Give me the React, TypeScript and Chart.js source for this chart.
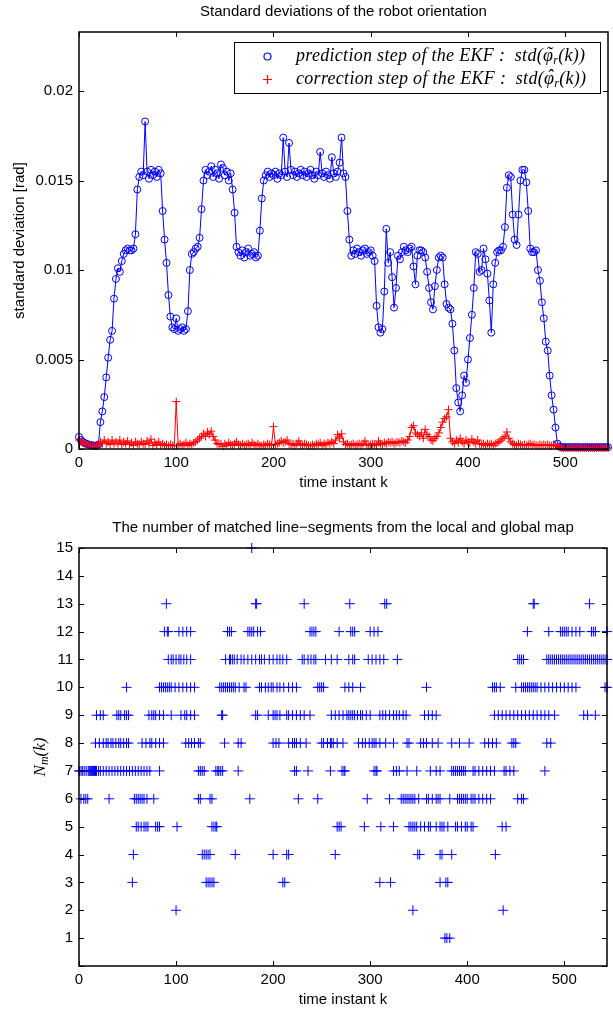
import React, { useEffect, useRef } from 'react';
import { Chart, registerables } from 'chart.js';

Chart.register(...registerables);

// ---------- top chart: standard deviations (units of 1e-4 rad), sampled every 2nd time instant ----------
const timeInstants: number[] = Array.from({ length: 273 }, (_, i) => i * 2);

const predictionStdE4: number[] = [
  6.8, 5, 4, 3.3, 2.8, 2.5, 2.2, 2, 1.9, 1.8,            // k 0-18
  2.5, 15, 21, 29, 40, 51, 61, 66, 84, 95,               // k 20-38
  101, 99, 105, 109, 111, 112, 111, 111, 112, 120,       // k 40-58
  145, 152, 155, 153, 183, 155, 151, 156, 153, 155,      // k 60-78
  152, 156, 154, 133, 117, 104, 86, 74, 68, 67,          // k 80-98
  73, 66, 67, 68, 66, 67, 77, 100, 109, 110,             // k 100-118
  112, 113, 118, 134, 150, 156, 153, 155, 158, 152,      // k 120-138
  156, 154, 151, 159, 157, 153, 155, 150, 154, 145,      // k 140-158
  132, 113, 110, 108, 111, 107, 110, 112, 108, 109,      // k 160-178
  110, 107, 108, 122, 140, 150, 153, 155, 152, 154,      // k 180-198
  153, 155, 151, 154, 153, 174, 155, 152, 171, 156,      // k 200-218
  153, 155, 152, 154, 156, 153, 155, 152, 154, 156,      // k 220-238
  153, 151, 155, 153, 166, 154, 152, 155, 153, 151,      // k 240-258
  163, 154, 152, 155, 160, 174, 154, 152, 133, 117,      // k 260-278
  108, 111, 109, 112, 110, 108, 111, 112, 109, 110,      // k 280-298
  111, 108, 105, 80, 68, 65, 67, 88, 123, 104,           // k 300-318
  110, 96, 79, 90, 108, 106, 110, 113, 111, 110,         // k 320-338
  112, 113, 102, 92, 108, 111, 111, 110, 107, 99,        // k 340-358
  90, 82, 78, 91, 100, 107, 108, 107, 92, 81,            // k 360-378
  79, 78, 70, 55, 34, 26, 21, 30, 41, 37,                // k 380-398
  50, 62, 75, 90, 110, 109, 99, 100, 112, 106,           // k 400-418
  98, 83, 65, 92, 104, 110, 111, 111, 113, 124,          // k 420-438
  146, 153, 152, 131, 117, 114, 131, 150, 156, 156,      // k 440-458
  149, 133, 112, 110, 110, 111, 100, 94, 82, 73,         // k 460-478
  60, 55, 41, 30, 22, 12, 3, 1.5, 1.1, 1,                // k 480-498
  1, 1, 1, 1, 1, 1, 1, 1, 1, 1,                          // k 500-518
  1, 1, 1, 1, 1, 1, 1, 1, 1, 1,                          // k 520-538
  1, 1, 1,                                               // k 540-544
];

const correctionStdE4: number[] = [
  5, 4, 3.5, 3, 2.5, 2.2, 2, 1.8, 1.7, 1.8,              // k 0-18
  2.5, 4, 3, 5, 3, 4, 2.5, 5, 3, 4,                      // k 20-38
  3, 5, 2.5, 4, 3, 4.5, 2.5, 3.5, 2, 4,                  // k 40-58
  3, 2.5, 4, 3, 2.5, 4.5, 3, 5.5, 2, 3.5,                // k 60-78
  2.5, 4, 2, 3, 2, 2.5, 1.8, 2.5, 2, 1.8,                // k 80-98
  26.5, 2, 3, 2, 2.5, 3.5, 2, 3, 2.5, 3.5,               // k 100-118
  4, 5, 6, 7, 8.5, 7, 9.5, 8, 10, 7,                     // k 120-138
  5, 3, 2.5, 3, 1.5, 3, 2, 3.5, 2.5, 2,                  // k 140-158
  3, 4, 2.5, 2, 3, 2, 2.5, 3, 2, 3.5,                    // k 160-178
  2.5, 2, 3, 2, 1.8, 2.5, 2, 3, 2.5, 2,                  // k 180-198
  12.5, 2.5, 3, 3.5, 4.5, 3.5, 4, 5, 3, 2.5,             // k 200-218
  3, 2, 3, 4.5, 2.5, 2, 3, 2.5, 2, 1.8,                  // k 220-238
  2.5, 2, 3, 2.5, 3.5, 2, 3, 2.5, 3.5, 3,                // k 240-258
  4, 3, 5, 8, 6, 8.5, 4, 2.5, 3, 2,                      // k 260-278
  2.5, 3, 2, 2.5, 3, 2, 3, 4.5, 2.5, 2,                  // k 280-298
  2.5, 3, 2.5, 2, 4.5, 3, 2.5, 3.5, 3, 4,                // k 300-318
  3.5, 4, 3, 3.5, 4, 3.5, 4.5, 4, 3.5, 5,                // k 320-338
  7, 12, 13, 9, 8, 7, 9, 6, 11, 8,                       // k 340-358
  7, 5, 4.5, 6, 7, 9, 12, 15, 17, 18,                    // k 360-378
  22, 6, 4, 3, 5, 3.5, 6, 4, 3, 5,                       // k 380-398
  4, 3.5, 5.5, 4, 3, 5, 3, 2.5, 3, 2,                    // k 400-418
  3, 2.5, 3, 2, 3, 3.5, 4, 5, 6, 7,                      // k 420-438
  9.5, 6, 4, 3, 2.5, 2, 3, 2.5, 2, 2.5,                  // k 440-458
  2, 2.5, 3, 2, 2.5, 2, 1.8, 2.5, 2, 2.5,                // k 460-478
  2, 2.5, 2, 1.8, 2.5, 2, 1.5, 1, 0.6, 0.5,              // k 480-498
  0.6, 0.5, 0.6, 0.5, 0.6, 0.5, 0.6, 0.5, 0.6, 0.5,      // k 500-518
  0.6, 0.5, 0.6, 0.5, 0.6, 0.5, 0.6, 0.5, 0.6, 0.5,      // k 520-538
  0.6, 0.5, 0.6,                                         // k 540-544
];

const stdTicks = [0, 0.005, 0.01, 0.015, 0.02];
const timeTicks = [0, 100, 200, 300, 400, 500];

// ---------- bottom chart: time instants k at which N_m(k) takes each value ----------
const kWithN1 = [377, 379, 382];
const kWithN2 = [100, 344, 437];
const kWithN3 = [55, 131, 133, 135, 137, 139, 210, 212, 310, 321, 372, 378, 380];
const kWithN4 = [56, 127, 129, 131, 133, 135, 161, 200, 214, 216, 264, 349, 351, 372, 374, 384, 429];
const kWithN5 = [59, 61, 64, 67, 69, 71, 79, 81, 83, 101, 137, 139, 141, 142, 266, 268, 270, 294, 311, 324, 340, 342, 344, 346, 348, 352, 356, 360, 362, 368, 372, 374, 376, 380, 388, 390, 394, 398, 400, 404, 406, 436, 440];
const kWithN6 = [2, 5, 7, 9, 31, 57, 59, 61, 63, 65, 67, 70, 77, 123, 125, 135, 137, 176, 226, 246, 297, 320, 332, 334, 336, 338, 340, 342, 344, 346, 350, 358, 360, 364, 368, 370, 372, 382, 390, 392, 394, 396, 398, 400, 404, 406, 408, 412, 416, 420, 424, 452, 456, 458];
const kWithN7 = [0, 1, 3, 4, 6, 8, 10, 11, 12, 13, 14, 15, 16, 17, 18, 20, 22, 25, 28, 31, 34, 37, 40, 43, 46, 49, 52, 55, 58, 61, 64, 67, 70, 73, 83, 123, 125, 127, 129, 141, 143, 144, 146, 148, 164, 222, 224, 236, 259, 271, 273, 274, 304, 306, 307, 324, 327, 330, 338, 348, 362, 368, 372, 384, 386, 388, 390, 392, 394, 396, 398, 406, 408, 412, 416, 420, 424, 428, 438, 440, 444, 448, 480];
const kWithN8 = [17, 21, 25, 28, 30, 33, 35, 38, 41, 43, 46, 49, 51, 65, 69, 73, 75, 79, 83, 87, 110, 113, 116, 119, 123, 125, 150, 164, 167, 200, 203, 206, 216, 220, 222, 224, 228, 234, 250, 252, 256, 259, 260, 262, 266, 272, 288, 292, 295, 299, 302, 304, 306, 310, 316, 324, 338, 340, 352, 355, 358, 364, 370, 384, 392, 402, 418, 422, 426, 430, 446, 448, 450, 482, 486];
const kWithN9 = [18, 22, 25, 39, 41, 43, 47, 49, 51, 72, 75, 77, 79, 83, 87, 95, 105, 109, 111, 115, 119, 147, 148, 182, 184, 195, 200, 202, 204, 207, 214, 216, 220, 224, 228, 232, 238, 260, 264, 268, 272, 276, 278, 280, 282, 284, 287, 290, 292, 296, 300, 310, 313, 316, 320, 324, 327, 330, 334, 337, 356, 360, 364, 368, 428, 432, 436, 440, 444, 448, 452, 456, 460, 464, 468, 472, 476, 480, 484, 490, 520, 524, 532];
const kWithN10 = [49, 83, 85, 87, 89, 91, 93, 95, 99, 103, 107, 111, 115, 119, 145, 147, 149, 151, 153, 155, 157, 159, 161, 165, 170, 172, 186, 188, 192, 195, 198, 200, 204, 207, 211, 216, 220, 224, 246, 248, 250, 252, 274, 278, 282, 290, 358, 426, 428, 430, 434, 450, 456, 458, 460, 462, 464, 466, 468, 470, 472, 476, 480, 484, 488, 492, 496, 500, 504, 508, 512, 542, 544];
const kWithN11 = [92, 95, 97, 100, 103, 105, 108, 111, 115, 151, 155, 156, 158, 160, 163, 167, 170, 174, 178, 182, 186, 188, 191, 196, 200, 204, 207, 210, 214, 230, 232, 236, 239, 242, 244, 254, 260, 266, 278, 282, 284, 298, 302, 306, 310, 314, 328, 452, 454, 456, 458, 482, 484, 486, 488, 490, 492, 494, 496, 498, 500, 502, 504, 506, 508, 510, 512, 514, 516, 518, 520, 522, 524, 526, 528, 530, 532, 534, 536, 538, 540, 542, 544];
const kWithN12 = [88, 91, 92, 103, 107, 111, 115, 153, 155, 157, 174, 176, 178, 180, 184, 187, 238, 240, 242, 244, 268, 280, 282, 284, 300, 304, 308, 462, 484, 496, 498, 500, 502, 504, 508, 512, 516, 528, 530, 532, 544];
const kWithN13 = [90, 182, 183, 232, 279, 315, 317, 468, 469, 526];
const kWithN15 = [178];

const matchedRows: [number, number[]][] = [
  [1, kWithN1], [2, kWithN2], [3, kWithN3], [4, kWithN4], [5, kWithN5],
  [6, kWithN6], [7, kWithN7], [8, kWithN8], [9, kWithN9], [10, kWithN10],
  [11, kWithN11], [12, kWithN12], [13, kWithN13], [15, kWithN15],
];

// ---------- helpers ----------
const SANS = '"Liberation Sans", Arial, Helvetica, sans-serif';
const SERIF = '"Liberation Serif", "DejaVu Serif", serif';
const tickFont = { family: SANS, size: 15 };

type Run = { t: string; font: string; dy?: number; accent?: string; ady?: number };

function runsWidth(ctx: CanvasRenderingContext2D, runs: Run[]) {
  let w = 0;
  for (const r of runs) { ctx.font = r.font; w += ctx.measureText(r.t).width; }
  return w;
}
function drawRuns(ctx: CanvasRenderingContext2D, x: number, y: number, runs: Run[]) {
  let cx = x;
  for (const r of runs) {
    ctx.font = r.font;
    ctx.textAlign = 'left';
    ctx.fillText(r.t, cx, y + (r.dy || 0));
    const w = ctx.measureText(r.t).width;
    if (r.accent) {
      ctx.textAlign = 'center';
      ctx.fillText(r.accent, cx + w / 2 + 1, y + (r.ady || 0));
      ctx.textAlign = 'left';
    }
    cx += w;
  }
}

const boxPlugin = {
  id: 'matlabBox',
  afterDatasetsDraw(chart: any) {
    const { ctx, chartArea: a, scales } = chart;
    ctx.save();
    ctx.strokeStyle = '#000';
    ctx.lineWidth = 1;
    const xs = scales.x, ys = scales.y;
    const L = 5;
    ctx.beginPath();
    xs.ticks.forEach((t: any) => {
      const p = Math.round(xs.getPixelForValue(t.value)) + 0.5;
      ctx.moveTo(p, a.bottom); ctx.lineTo(p, a.bottom - L);
      ctx.moveTo(p, a.top); ctx.lineTo(p, a.top + L);
    });
    ys.ticks.forEach((t: any) => {
      const p = Math.round(ys.getPixelForValue(t.value)) + 0.5;
      ctx.moveTo(a.left, p); ctx.lineTo(a.left + L, p);
      ctx.moveTo(a.right, p); ctx.lineTo(a.right - L, p);
    });
    ctx.stroke();
    ctx.lineWidth = 1.5;
    ctx.strokeRect(a.left, a.top, a.right - a.left, a.bottom - a.top);
    ctx.restore();
  },
};

function textPlugin(title: string, yTitle: (ctx: CanvasRenderingContext2D, cx: number, cy: number) => void, legend: boolean) {
  return {
    id: 'texts',
    afterDraw(chart: any) {
      const { ctx, chartArea: a } = chart;
      ctx.save();
      ctx.fillStyle = '#000';
      ctx.textBaseline = 'middle';
      ctx.textAlign = 'center';
      ctx.font = `15px ${SANS}`;
      ctx.fillText(title, (a.left + a.right) / 2, a.top - 20);
      ctx.fillText('time instant k', (a.left + a.right) / 2, a.bottom + 34);
      yTitle(ctx, 0, (a.top + a.bottom) / 2);
      if (legend) {
        const bx = 234, by = 42, bw = 366, bh = 51;
        ctx.fillStyle = '#fff';
        ctx.fillRect(bx, by, bw, bh);
        ctx.strokeStyle = '#000';
        ctx.lineWidth = 1;
        ctx.strokeRect(bx + 0.5, by + 0.5, bw, bh);
        // markers
        ctx.lineWidth = 1.2;
        ctx.strokeStyle = '#0000ff';
        ctx.beginPath();
        ctx.arc(267.5, 56.5, 3.5, 0, Math.PI * 2);
        ctx.stroke();
        ctx.strokeStyle = '#ff0000';
        ctx.beginPath();
        ctx.moveTo(263, 79.5); ctx.lineTo(272, 79.5);
        ctx.moveTo(267.5, 75); ctx.lineTo(267.5, 84);
        ctx.stroke();
        ctx.fillStyle = '#000';
        ctx.textAlign = 'left';
        const f = `italic 18px ${SERIF}`;
        const fs = `italic 12px ${SERIF}`;
        (ctx as any).letterSpacing = '0.3px';
        drawRuns(ctx, 296, 56, [
          { t: 'prediction step of the EKF :  std(', font: f },
          { t: 'φ', font: f, accent: '\u02DC', ady: -1 },
          { t: 'r', font: fs, dy: 5 },
          { t: '(k))', font: f },
        ]);
        drawRuns(ctx, 296, 79, [
          { t: 'correction step of the EKF :  std(', font: f },
          { t: 'φ', font: f, accent: '\u02C6', ady: -2 },
          { t: 'r', font: fs, dy: 5 },
          { t: '(k))', font: f },
        ]);
        (ctx as any).letterSpacing = '0px';
      }
      ctx.restore();
    },
  };
}

function axisCommon(extra: any) {
  return {
    type: 'linear',
    grid: { display: false, drawTicks: false },
    border: { display: false },
    ...extra,
  };
}

export default function App() {
  const topRef = useRef<HTMLCanvasElement>(null);
  const botRef = useRef<HTMLCanvasElement>(null);

  useEffect(() => {
    const predData = timeInstants.map((k, i) => ({ x: k, y: predictionStdE4[i] / 1e4 }));
    const corrData = timeInstants.map((k, i) => ({ x: k, y: correctionStdE4[i] / 1e4 }));

    const top = new Chart(topRef.current as HTMLCanvasElement, {
      type: 'line',
      data: {
        datasets: [
          {
            label: 'prediction step of the EKF',
            data: predData,
            borderColor: '#0000ff',
            borderWidth: 1,
            pointStyle: 'circle',
            pointRadius: 3.5,
            pointBorderColor: '#0000ff',
            pointBackgroundColor: 'rgba(0,0,0,0)',
            pointBorderWidth: 1,
            fill: false,
            tension: 0,
            order: 1,
            clip: false,
          } as any,
          {
            label: 'correction step of the EKF',
            data: corrData,
            borderColor: '#ff0000',
            borderWidth: 1,
            pointStyle: 'cross',
            pointRadius: 4,
            pointBorderColor: '#ff0000',
            pointBorderWidth: 1,
            fill: false,
            tension: 0,
            order: 0,
            clip: false,
          } as any,
        ],
      },
      options: {
        animation: false,
        responsive: false,
        maintainAspectRatio: false,
        events: [],
        layout: { padding: { left: 0, right: 3, top: 32, bottom: 0 } },
        plugins: { legend: { display: false }, tooltip: { enabled: false }, title: { display: false } },
        scales: {
          x: axisCommon({
            min: 0, max: 544,
            afterBuildTicks: (s: any) => { s.ticks = timeTicks.map((v) => ({ value: v })); },
            ticks: { padding: 5, font: tickFont, color: '#000', maxRotation: 0, autoSkip: false, includeBounds: false },
            afterFit: (s: any) => { s.height = 51; },
          }),
          y: axisCommon({
            min: 0, max: 0.0233,
            afterBuildTicks: (s: any) => { s.ticks = stdTicks.map((v) => ({ value: v })); },
            ticks: { padding: 6, font: tickFont, color: '#000', autoSkip: false, includeBounds: false,
              callback: (v: any) => String(+Number(v).toFixed(4)) },
            afterFit: (s: any) => { s.width = 79; },
          }),
        },
      } as any,
      plugins: [
        boxPlugin,
        textPlugin('Standard deviations of the robot orientation', (ctx, _x, cy) => {
          ctx.save();
          ctx.translate(20, cy);
          ctx.rotate(-Math.PI / 2);
          ctx.textAlign = 'center';
          ctx.font = `15px ${SANS}`;
          ctx.fillText('standard deviation [rad]', 0, 0);
          ctx.restore();
        }, true),
      ],
    });

    const matchedData = matchedRows.flatMap(([n, ks]) => ks.map((k) => ({ x: k, y: n })));

    const bottom = new Chart(botRef.current as HTMLCanvasElement, {
      type: 'scatter',
      data: {
        datasets: [
          {
            label: 'N_m(k)',
            data: matchedData,
            showLine: false,
            pointStyle: 'cross',
            pointRadius: 5,
            borderColor: '#0000ff',
            pointBorderColor: '#0000ff',
            pointBorderWidth: 1,
            clip: false,
          } as any,
        ],
      },
      options: {
        animation: false,
        responsive: false,
        maintainAspectRatio: false,
        events: [],
        layout: { padding: { left: 0, right: 3, top: 48, bottom: 0 } },
        plugins: { legend: { display: false }, tooltip: { enabled: false }, title: { display: false } },
        scales: {
          x: axisCommon({
            min: 0, max: 544,
            afterBuildTicks: (s: any) => { s.ticks = timeTicks.map((v) => ({ value: v })); },
            ticks: { padding: 5, font: tickFont, color: '#000', maxRotation: 0, autoSkip: false },
            afterFit: (s: any) => { s.height = 44; },
          }),
          y: axisCommon({
            min: 0, max: 15,
            ticks: { stepSize: 1, padding: 6, font: tickFont, color: '#000', autoSkip: false, includeBounds: false,
              callback: (v: any) => (Number(v) === 0 ? '' : String(v)) },
            afterFit: (s: any) => { s.width = 79; },
          }),
        },
      } as any,
      plugins: [
        boxPlugin,
        textPlugin('The number of matched line\u2212segments from the local and global map', (ctx, _x, cy) => {
          ctx.save();
          ctx.translate(41, cy);
          ctx.rotate(-Math.PI / 2);
          ctx.textAlign = 'left';
          const f = `italic 17px ${SERIF}`;
          const runs: Run[] = [
            { t: 'N', font: f },
            { t: 'm', font: `italic 12px ${SERIF}`, dy: 4 },
            { t: '(k)', font: f },
          ];
          const w = runsWidth(ctx, runs);
          drawRuns(ctx, -w / 2, 0, runs);
          ctx.restore();
        }, false),
      ],
    });

    return () => { top.destroy(); bottom.destroy(); };
  }, []);

  return (
    <div style={{ position: 'absolute', left: 0, top: 0, width: 613, height: 1010, background: '#fff' }}>
      <canvas ref={topRef} width={613} height={500} style={{ display: 'block' }} />
      <canvas ref={botRef} width={613} height={510} style={{ display: 'block' }} />
    </div>
  );
}
